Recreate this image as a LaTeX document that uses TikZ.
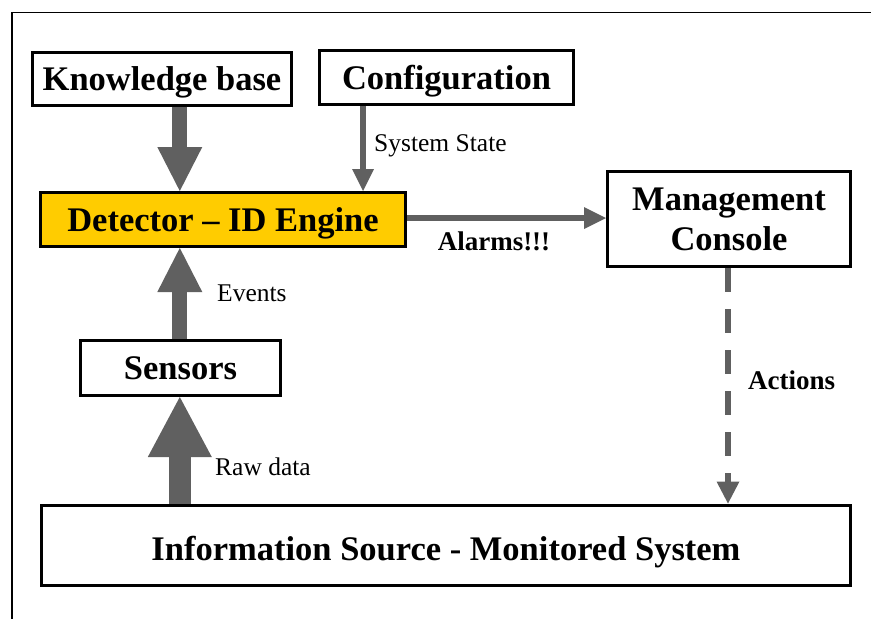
\documentclass[tikz,border=0pt]{standalone}
\usepackage{fontspec}
\setmainfont{Liberation Serif}
\usetikzlibrary{arrows.meta}
\definecolor{flowgray}{RGB}{96,96,96}
\definecolor{enginegold}{RGB}{255,204,0}
\begin{document}
\begin{tikzpicture}[x=1pt,y=-1pt,
  block/.style={draw=black, line width=3pt, fill=white, inner sep=0pt,
    text height=23.5pt, text depth=0pt,
    align=center, font=\bfseries\fontsize{34.5}{40}\selectfont},
  plainlbl/.style={inner sep=0pt, anchor=west, font=\fontsize{25.5}{30}\selectfont},
  boldlbl/.style={inner sep=0pt, font=\bfseries\fontsize{27}{30}\selectfont},
  bigflow/.style={draw=flowgray, line width=15pt,
    -{Triangle[length=44pt,width=45pt,line width=0pt]}},
  hugeflow/.style={draw=flowgray, line width=22pt,
    -{Triangle[length=60pt,width=64pt,line width=0pt]}},
  thinflow/.style={draw=flowgray, line width=5.5pt,
    -{Triangle[length=22pt,width=22pt,line width=0pt]}},
  dashflow/.style={draw=flowgray, line width=6pt, dash pattern=on 24pt off 17pt,
    -{Triangle[length=22pt,width=23pt,line width=0pt]}}
]
\useasboundingbox (0,0) rectangle (871,619);

% outer frame (open to the right and bottom)
\draw[line width=1.5pt] (12,621) -- (12,12.5) -- (873,12.5);

% blocks
\node[block, minimum width=259pt, minimum height=53pt] (kb)  at (162,78.5) {Knowledge base};
\node[block, minimum width=254pt, minimum height=54pt] (cfg) at (446.5,77.5) {Configuration};
\node[block, fill=enginegold, minimum width=365pt, minimum height=54pt] (det) at (223,219.5) {Detector -- ID Engine};
\node[block, minimum width=200pt, minimum height=55pt] (sen) at (180.5,368) {Sensors};
\node[block, text height=63.5pt, minimum width=243pt, minimum height=95pt] (mc)  at (729,219) {Management\\Console};
\node[block, text height=30pt, minimum width=809pt, minimum height=80pt] (src) at (446,545) {Information Source - Monitored System};

% guide positions for the connectors
\coordinate (colA) at (179.8,0);
\coordinate (colB) at (363,0);
\coordinate (colC) at (728,0);
\coordinate (rowA) at (0,218);

% connectors
\draw[bigflow]  (kb.south -| colA) -- (det.north -| colA);
\draw[thinflow] (cfg.south -| colB) -- (det.north -| colB);
\draw[bigflow]  (sen.north -| colA) -- (det.south -| colA);
\draw[hugeflow] (src.north -| colA) -- (sen.south -| colA);
\draw[thinflow] (det.east |- rowA) -- (mc.west |- rowA);
\draw[dashflow] (mc.south -| colC) -- (src.north -| colC);

% connector labels
\node[plainlbl] (lstate)  at (374,146) {System State};
\node[plainlbl] (levents) at (217,293) {Events};
\node[plainlbl] (lraw)    at (215,467) {Raw data};
\node[boldlbl]  (lalarm)  at (494,241) {Alarms!!!};
\node[boldlbl, anchor=west] (lact) at (748,380) {Actions};
\end{tikzpicture}
\end{document}
